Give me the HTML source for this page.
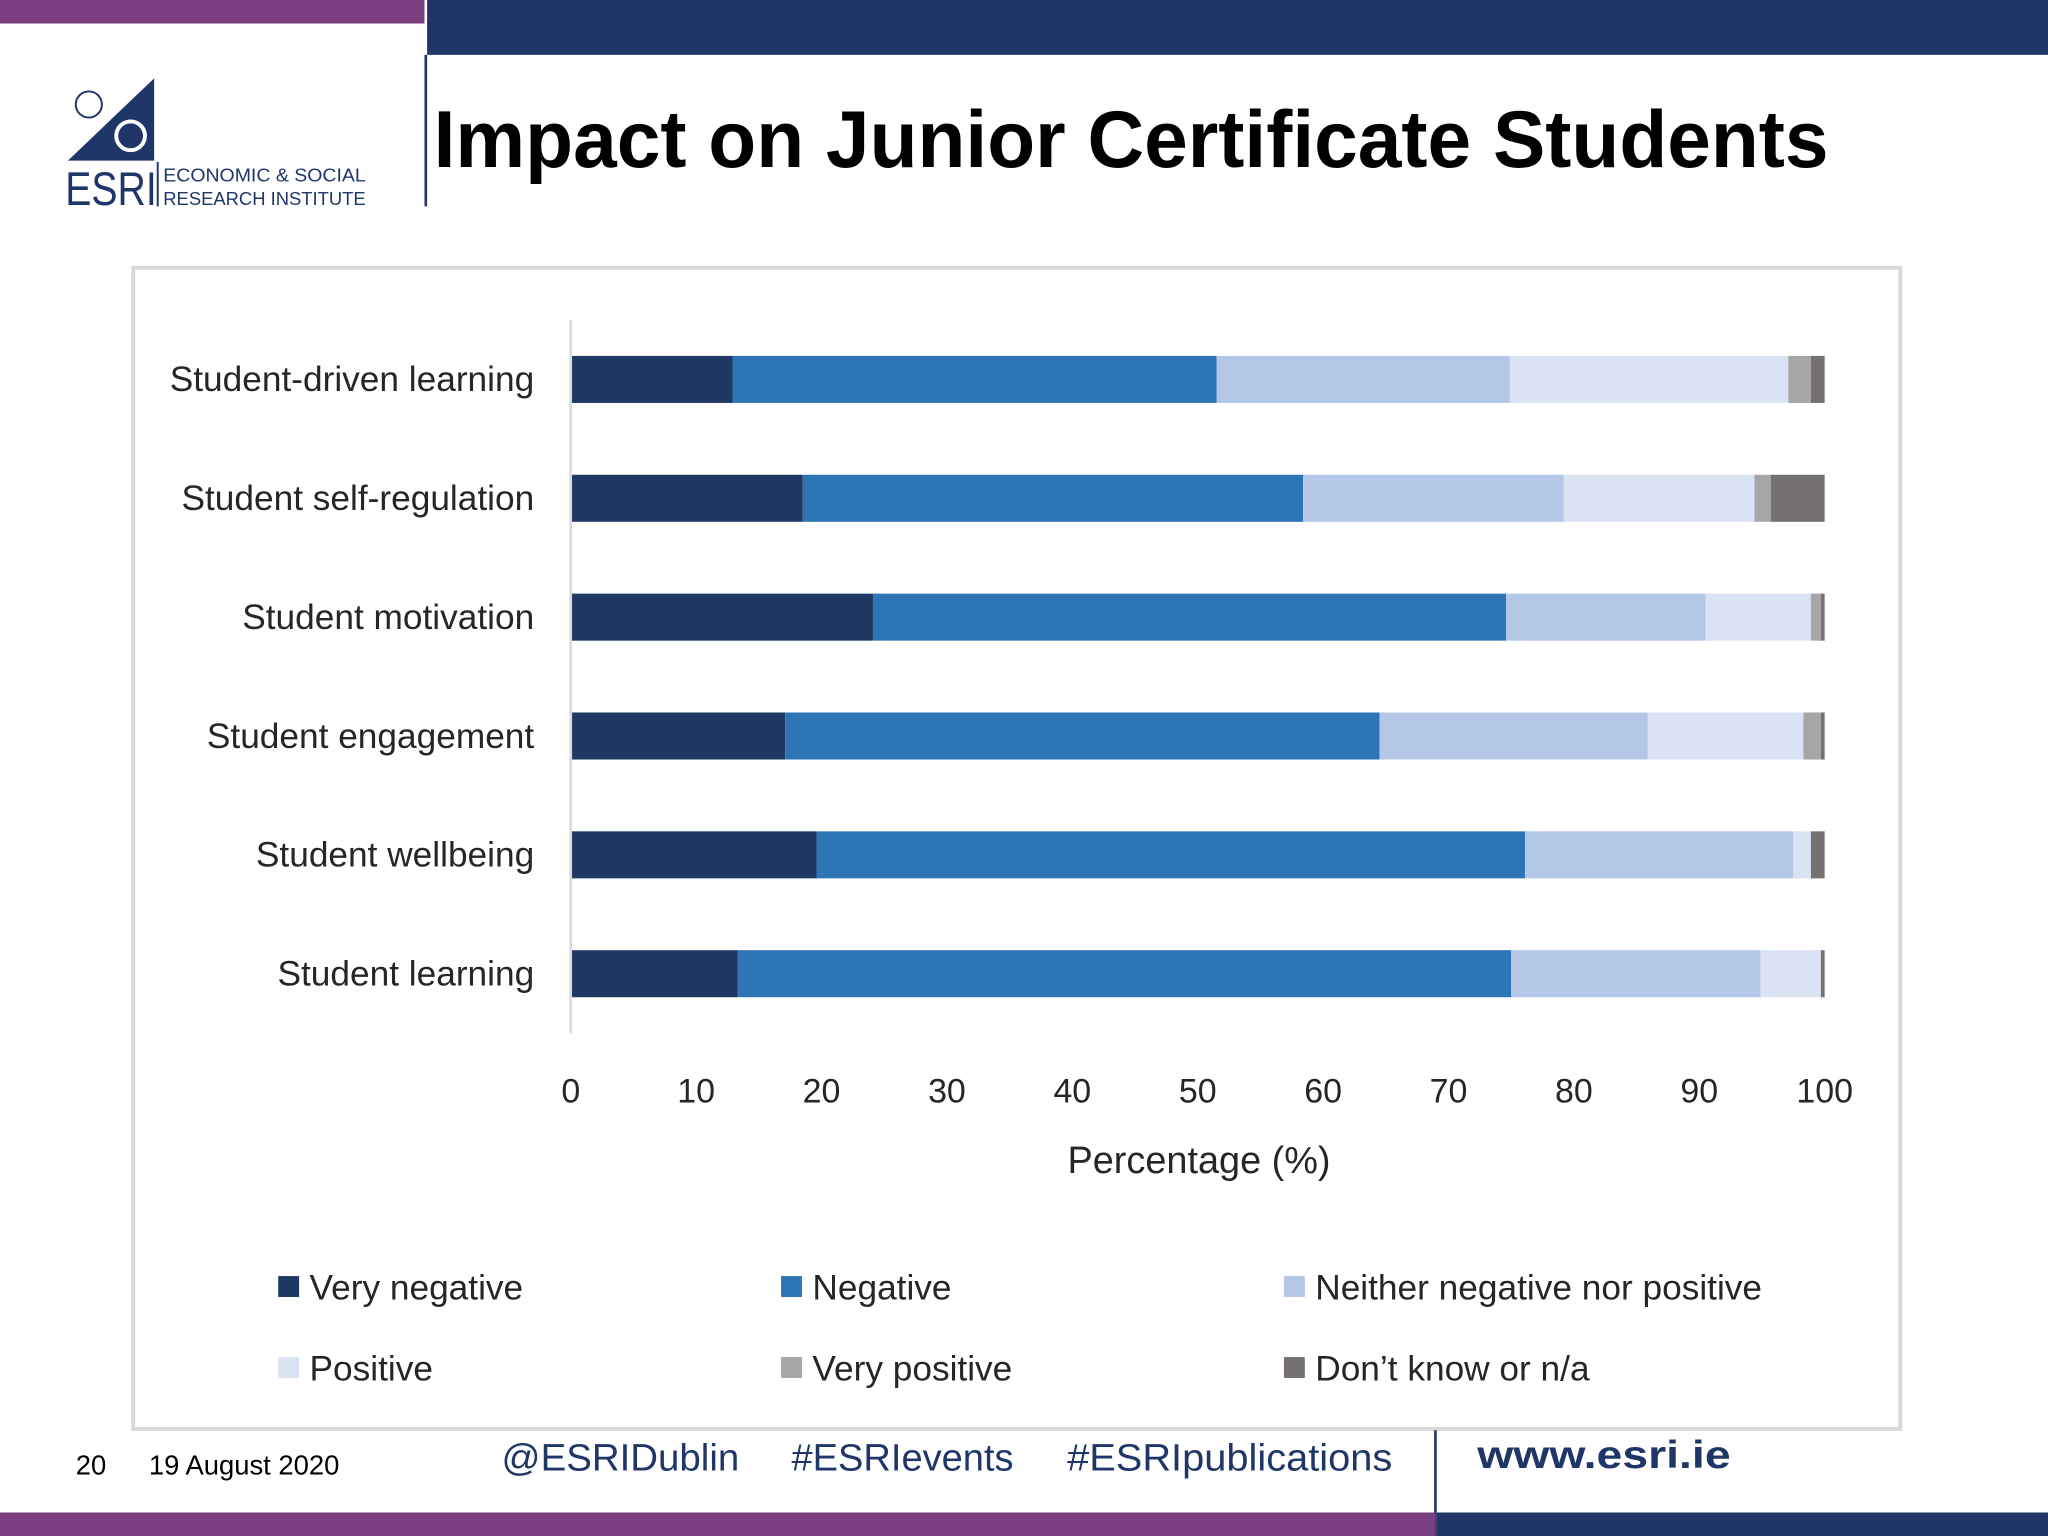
<!DOCTYPE html>
<html><head><meta charset="utf-8"><style>
html,body{margin:0;padding:0;background:#fff;width:2048px;height:1536px;overflow:hidden}
svg{display:block;font-family:"Liberation Sans",sans-serif}
</style></head><body>
<svg id="s" width="2048" height="1536" viewBox="0 0 1568 1176" xmlns="http://www.w3.org/2000/svg">
<rect x="0" y="0" width="1568" height="1176" fill="#fff"/>
<rect x="0" y="0" width="325" height="18" fill="#7b3f82"/>
<rect x="327" y="0" width="1241" height="42" fill="#203668"/>
<rect x="325" y="42" width="2" height="116" fill="#203668"/>
<g>
<polygon points="52,123 118,60 118,123" fill="#203668"/>
<circle cx="68" cy="80" r="10" fill="none" stroke="#fff" stroke-width="2.5"/>
<circle cx="68" cy="80" r="10" fill="none" stroke="#203668" stroke-width="1.5"/>
<circle cx="100" cy="104" r="11" fill="none" stroke="#fff" stroke-width="3"/>
<text x="50" y="157" font-size="36" fill="#203668" textLength="70" lengthAdjust="spacingAndGlyphs">ESRI</text>
<rect x="120" y="124" width="1.5" height="34" fill="#203668"/>
<text x="125" y="139" font-size="14" fill="#203668" textLength="155" lengthAdjust="spacingAndGlyphs">ECONOMIC &amp; SOCIAL</text>
<text x="125" y="157" font-size="14" fill="#203668" textLength="155" lengthAdjust="spacingAndGlyphs">RESEARCH INSTITUTE</text>
</g>
<text x="332" y="128" font-size="62" font-weight="bold" fill="#000" textLength="1068" lengthAdjust="spacingAndGlyphs">Impact on Junior Certificate Students</text>
<rect x="102" y="205" width="1353" height="889" fill="#fff" stroke="#d9d9d9" stroke-width="3"/>
<g id="plot"></g>
<g>
<text x="58" y="1129" font-size="21" fill="#000">20</text>
<text x="114" y="1129" font-size="21" fill="#000">19 August 2020</text>
<text x="384" y="1126" font-size="29" fill="#203668" textLength="182" lengthAdjust="spacingAndGlyphs">@ESRIDublin</text>
<text x="606" y="1126" font-size="29" fill="#203668" textLength="170" lengthAdjust="spacingAndGlyphs">#ESRIevents</text>
<text x="817" y="1126" font-size="29" fill="#203668" textLength="249" lengthAdjust="spacingAndGlyphs">#ESRIpublications</text>
<rect x="1098" y="1095" width="2" height="81" fill="#203668"/>
<text x="1131" y="1124" font-size="30" font-weight="bold" fill="#203668" textLength="194" lengthAdjust="spacingAndGlyphs">www.esri.ie</text>
<rect x="0" y="1158" width="1099" height="18" fill="#7b3f82"/>
<rect x="1100" y="1158" width="468" height="18" fill="#203668"/>
</g>
</svg>
<script>
const categories=["Student-driven learning","Student self-regulation","Student motivation","Student engagement","Student wellbeing","Student learning"];
const seriesNames=["Very negative","Negative","Neither negative nor positive","Positive","Very positive","Don\u2019t know or n/a"];
const veryNegative=[12.9,18.5,24.1,17.1,19.6,13.3];
const negative=[38.6,39.9,50.5,47.4,56.5,61.7];
const neither=[23.4,20.8,15.9,21.4,21.4,19.9];
const positive=[22.2,15.2,8.4,12.4,1.4,4.8];
const veryPositive=[1.8,1.3,0.8,1.4,0,0];
const dontKnow=[1.1,4.3,0.3,0.3,1.1,0.3];
const xTicks=[0,10,20,30,40,50,60,70,80,90,100];
const colors=["#1f3864","#2e75b6","#b4c7e7","#dae3f3","#a6a6a6","#767171"];
const series=[veryNegative,negative,neither,positive,veryPositive,dontKnow];
const NS="http://www.w3.org/2000/svg";
const g=document.getElementById('plot');
const x0=437,x1=1397,yTop=245,yBot=791;
const xs=v=>x0+(v/100)*(x1-x0);
const band=(yBot-yTop)/categories.length;
const yc=i=>yTop+band*(i+0.5);
function mk(t,a){const e=document.createElementNS(NS,t);for(const k in a)e.setAttribute(k,a[k]);g.appendChild(e);return e;}
categories.forEach((c,i)=>{
  let acc=0;
  series.forEach((s,j)=>{
    const v=s[i];
    if(v>0){
      const r=mk('rect',{x:xs(acc),y:yc(i)-18,width:xs(acc+v)-xs(acc),height:36,fill:colors[j]});
      
      
    }
    acc+=v;
  });
  const t=mk('text',{x:409,y:yc(i)+9,'font-size':27,'text-anchor':'end',fill:'#262626'});
  t.textContent=c;
  
  
});
const ax=mk('line',{x1:x0,y1:yTop,x2:x0,y2:yBot,stroke:'#d9d9d9','stroke-width':2});


xTicks.forEach(v=>{
  const t=mk('text',{x:xs(v),y:844,'font-size':26,'text-anchor':'middle',fill:'#262626'});
  t.textContent=v;
  
  
});
const at=mk('text',{x:918,y:898,'font-size':29,'text-anchor':'middle',fill:'#262626'});
at.textContent='Percentage (%)';


const lx=[213,598,983],ly=[986,1048];
seriesNames.forEach((n,j)=>{
  const X=lx[j%3],Y=ly[Math.floor(j/3)];
  const r=mk('rect',{x:X,y:Y-9,width:16,height:16,fill:colors[j]});
  
  
  const t=mk('text',{x:X+24,y:Y+9,'font-size':27,fill:'#262626'});
  t.textContent=n;
  
  
});
</script>
</body></html>
